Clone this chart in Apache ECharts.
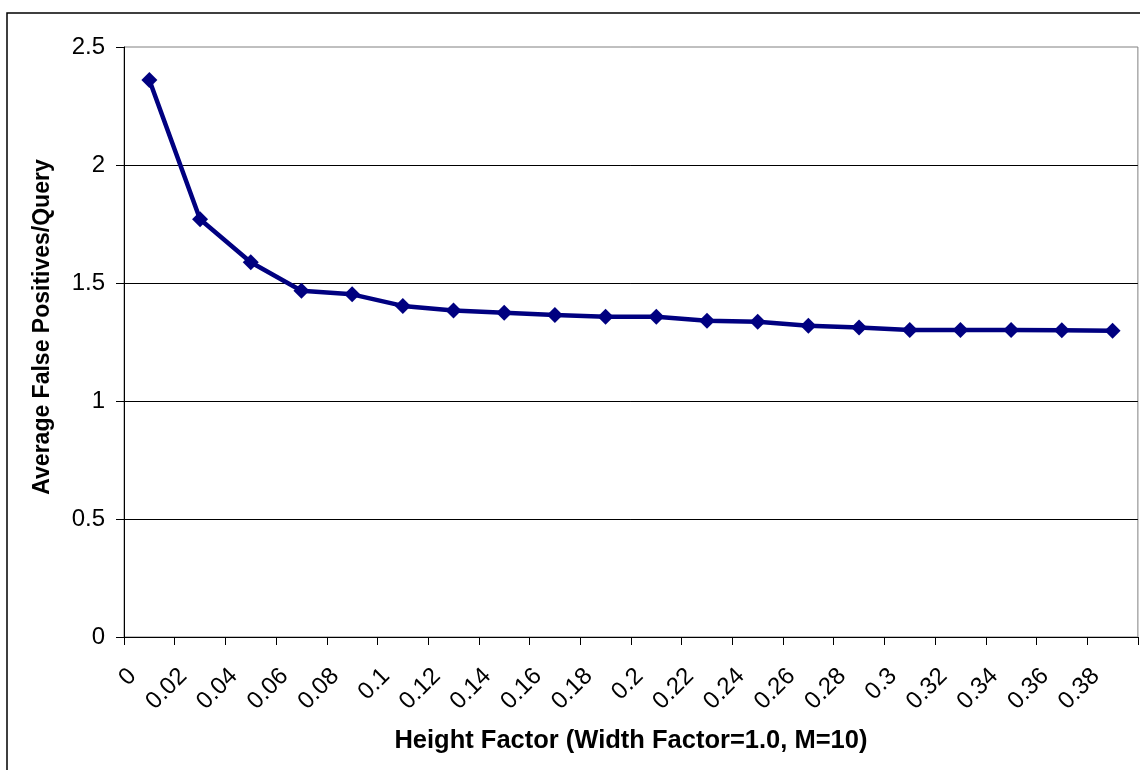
<!DOCTYPE html>
<html>
<head>
<meta charset="utf-8">
<script src="https://cdn.jsdelivr.net/npm/echarts@6/dist/echarts.min.js"></script>
<style>
  html, body { margin: 0; padding: 0; background: #fff; overflow: hidden; }
  #chart { width: 1140px; height: 770px; }
</style>
</head>
<body>
<div id="chart"></div>
<script>
  // height factor of each point (midway between ticks)
  var heightFactors = [0.01, 0.03, 0.05, 0.07, 0.09, 0.11, 0.13, 0.15, 0.17, 0.19,
    0.21, 0.23, 0.25, 0.27, 0.29, 0.31, 0.33, 0.35, 0.37, 0.39];
  var falsePositives = [2.36, 1.77, 1.588, 1.467, 1.452, 1.403, 1.383, 1.374, 1.364, 1.357,
    1.357, 1.340, 1.336, 1.319, 1.311, 1.301, 1.301, 1.301, 1.300, 1.298];
  var xTickLabels = ["0", "0.02", "0.04", "0.06", "0.08", "0.1", "0.12", "0.14", "0.16", "0.18",
    "0.2", "0.22", "0.24", "0.26", "0.28", "0.3", "0.32", "0.34", "0.36", "0.38", ""];
  var yTickLabels = ["0", "0.5", "1", "1.5", "2", "2.5"];

  var font = "'Liberation Sans', Arial, sans-serif";
  var chart = echarts.init(document.getElementById("chart"), null, { renderer: "canvas" });

  var points = heightFactors.map(function(x, i) {
    return [x, falsePositives[i]];
  });

  chart.setOption({
    animation: false,
    backgroundColor: "#fff",
    graphic: [{
      type: "rect",
      shape: { x: 7, y: 13, width: 1200, height: 800 },
      style: { fill: "none", stroke: "#000", lineWidth: 1.5 },
      silent: true
    }],
    grid: {
      left: 124, top: 47, right: 2, bottom: 133,
      show: true, borderColor: "#808080", borderWidth: 1, backgroundColor: "#fff"
    },
    xAxis: {
      type: "value",
      min: 0, max: 0.4, interval: 0.02,
      name: "Height Factor (Width Factor=1.0, M=10)",
      nameLocation: "middle",
      nameGap: 91,
      nameTextStyle: { fontFamily: font, fontSize: 25.5, fontWeight: "bold", color: "#000" },
      axisLine: { show: true, lineStyle: { color: "#000", width: 1 } },
      axisTick: { show: true, length: 8, lineStyle: { color: "#000" } },
      splitLine: { show: false },
      axisLabel: {
        rotate: 45,
        margin: 27,
        verticalAlign: "top",
        fontFamily: font, fontSize: 24, color: "#000",
        showMaxLabel: true,
        formatter: function(v) {
          return xTickLabels[Math.round(v / 0.02)];
        }
      }
    },
    yAxis: {
      type: "value",
      min: 0, max: 2.5, interval: 0.5,
      name: "Average False Positives/Query",
      nameLocation: "middle",
      nameGap: 70,
      nameTextStyle: {
        fontFamily: font, fontSize: 23, fontWeight: "bold", color: "#000",
        padding: [0, 0, 0, 30]
      },
      axisLine: { show: true, lineStyle: { color: "#000", width: 1 } },
      axisTick: { show: true, length: 8, lineStyle: { color: "#000" } },
      splitLine: { show: true, showMaxLine: false, lineStyle: { color: "#000", width: 1 } },
      axisLabel: {
        margin: 19,
        fontFamily: font, fontSize: 24, color: "#000",
        formatter: function(v) {
          return yTickLabels[Math.round(v / 0.5)];
        }
      }
    },
    series: [{
      type: "line",
      data: points,
      symbol: "diamond",
      symbolSize: 16,
      lineStyle: { color: "#000080", width: 4.5 },
      itemStyle: { color: "#000080" }
    }]
  });
</script>
</body>
</html>
